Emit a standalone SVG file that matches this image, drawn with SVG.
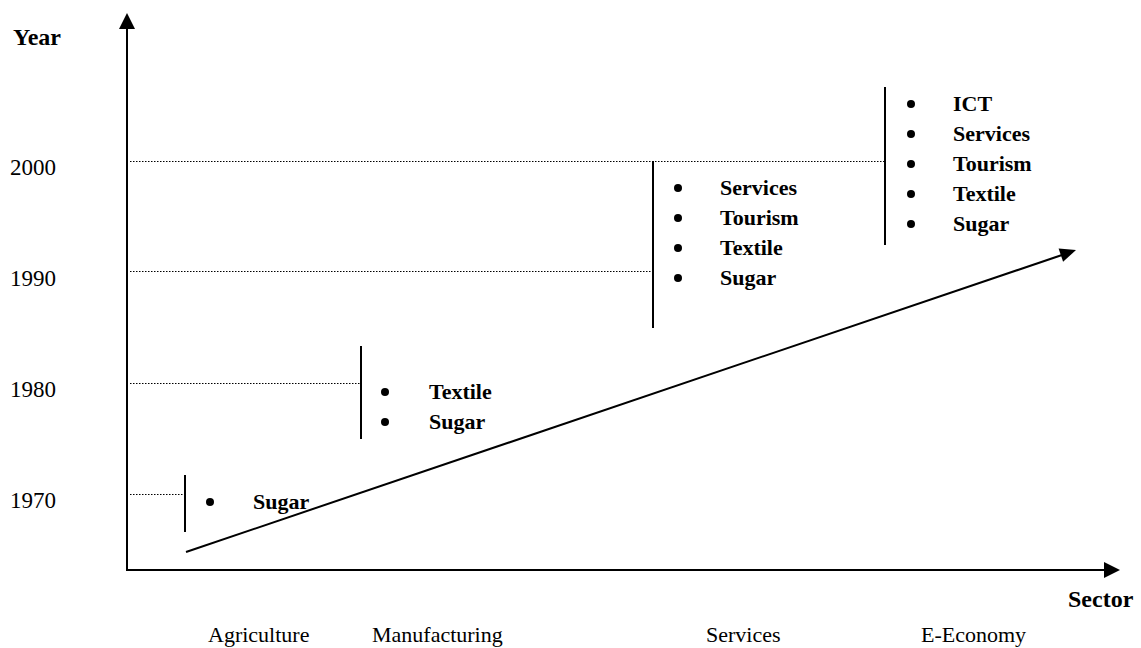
<svg xmlns="http://www.w3.org/2000/svg" width="1141" height="648" viewBox="0 0 1141 648">
<style>
.t{font-family:"Liberation Serif","Times New Roman",serif;font-size:22px;fill:#000}
.b{font-weight:bold}
.ax{stroke:#000;stroke-width:2;fill:none}
.dot{stroke:#000;stroke-width:1;stroke-dasharray:1.5 1.5;fill:none}
.bar{stroke:#000;stroke-width:2;fill:none}
.bl{fill:#000}
</style>
<rect width="1141" height="648" fill="#fff"/>
<g id="axes">
<line class="ax" x1="127" y1="571" x2="127" y2="28"/>
<path d="M119,29 L127,13 L135,29 z" fill="#000"/>
<line class="ax" x1="126" y1="570" x2="1105" y2="570"/>
<path d="M1104,562 L1120,570 L1104,578 z" fill="#000"/>
<text class="t b" x="13" y="45" style="font-size:24px">Year</text>
<text class="t b" x="1068" y="607" style="font-size:24px">Sector</text>
</g>
<g id="year-labels">
<text class="t" x="10" y="175" style="font-size:23px">2000</text>
<text class="t" x="10" y="286" style="font-size:23px">1990</text>
<text class="t" x="10" y="397" style="font-size:23px">1980</text>
<text class="t" x="10" y="508" style="font-size:23px">1970</text>
</g>
<g id="sector-labels">
<text class="t" x="208" y="642">Agriculture</text>
<text class="t" x="372" y="642">Manufacturing</text>
<text class="t" x="706" y="642">Services</text>
<text class="t" x="921" y="642">E-Economy</text>
</g>
<g id="connectors">
<line class="dot" x1="130" y1="161.5" x2="885" y2="161.5"/>
<line class="dot" x1="130" y1="271.5" x2="653" y2="271.5"/>
<line class="dot" x1="130" y1="383.5" x2="361" y2="383.5"/>
<line class="dot" x1="130" y1="494.5" x2="185" y2="494.5"/>
<line class="ax" x1="186" y1="552" x2="1062" y2="255"/>
<path d="M1076,250 L1063.1,261.8 L1058.6,248.5 z" fill="#000"/>
</g>
<g id="node-1970">
<line class="bar" x1="185" y1="475" x2="185" y2="532"/>
<circle class="bl" cx="210" cy="502" r="4"/>
<text class="t b" x="253" y="509">Sugar</text>
</g>
<g id="node-1980">
<line class="bar" x1="361" y1="346" x2="361" y2="439"/>
<circle class="bl" cx="385" cy="392" r="4"/>
<text class="t b" x="429" y="399">Textile</text>
<circle class="bl" cx="385" cy="422" r="4"/>
<text class="t b" x="429" y="429">Sugar</text>
</g>
<g id="node-1990">
<line class="bar" x1="653" y1="161" x2="653" y2="328"/>
<circle class="bl" cx="678" cy="188" r="4"/>
<text class="t b" x="720" y="195">Services</text>
<circle class="bl" cx="678" cy="218" r="4"/>
<text class="t b" x="720" y="225">Tourism</text>
<circle class="bl" cx="678" cy="248" r="4"/>
<text class="t b" x="720" y="255">Textile</text>
<circle class="bl" cx="678" cy="278" r="4"/>
<text class="t b" x="720" y="285">Sugar</text>
</g>
<g id="node-2000">
<line class="bar" x1="885" y1="87" x2="885" y2="245"/>
<circle class="bl" cx="911" cy="104" r="4"/>
<text class="t b" x="953" y="111">ICT</text>
<circle class="bl" cx="911" cy="134" r="4"/>
<text class="t b" x="953" y="141">Services</text>
<circle class="bl" cx="911" cy="164" r="4"/>
<text class="t b" x="953" y="171">Tourism</text>
<circle class="bl" cx="911" cy="194" r="4"/>
<text class="t b" x="953" y="201">Textile</text>
<circle class="bl" cx="911" cy="224" r="4"/>
<text class="t b" x="953" y="231">Sugar</text>
</g>
</svg>
